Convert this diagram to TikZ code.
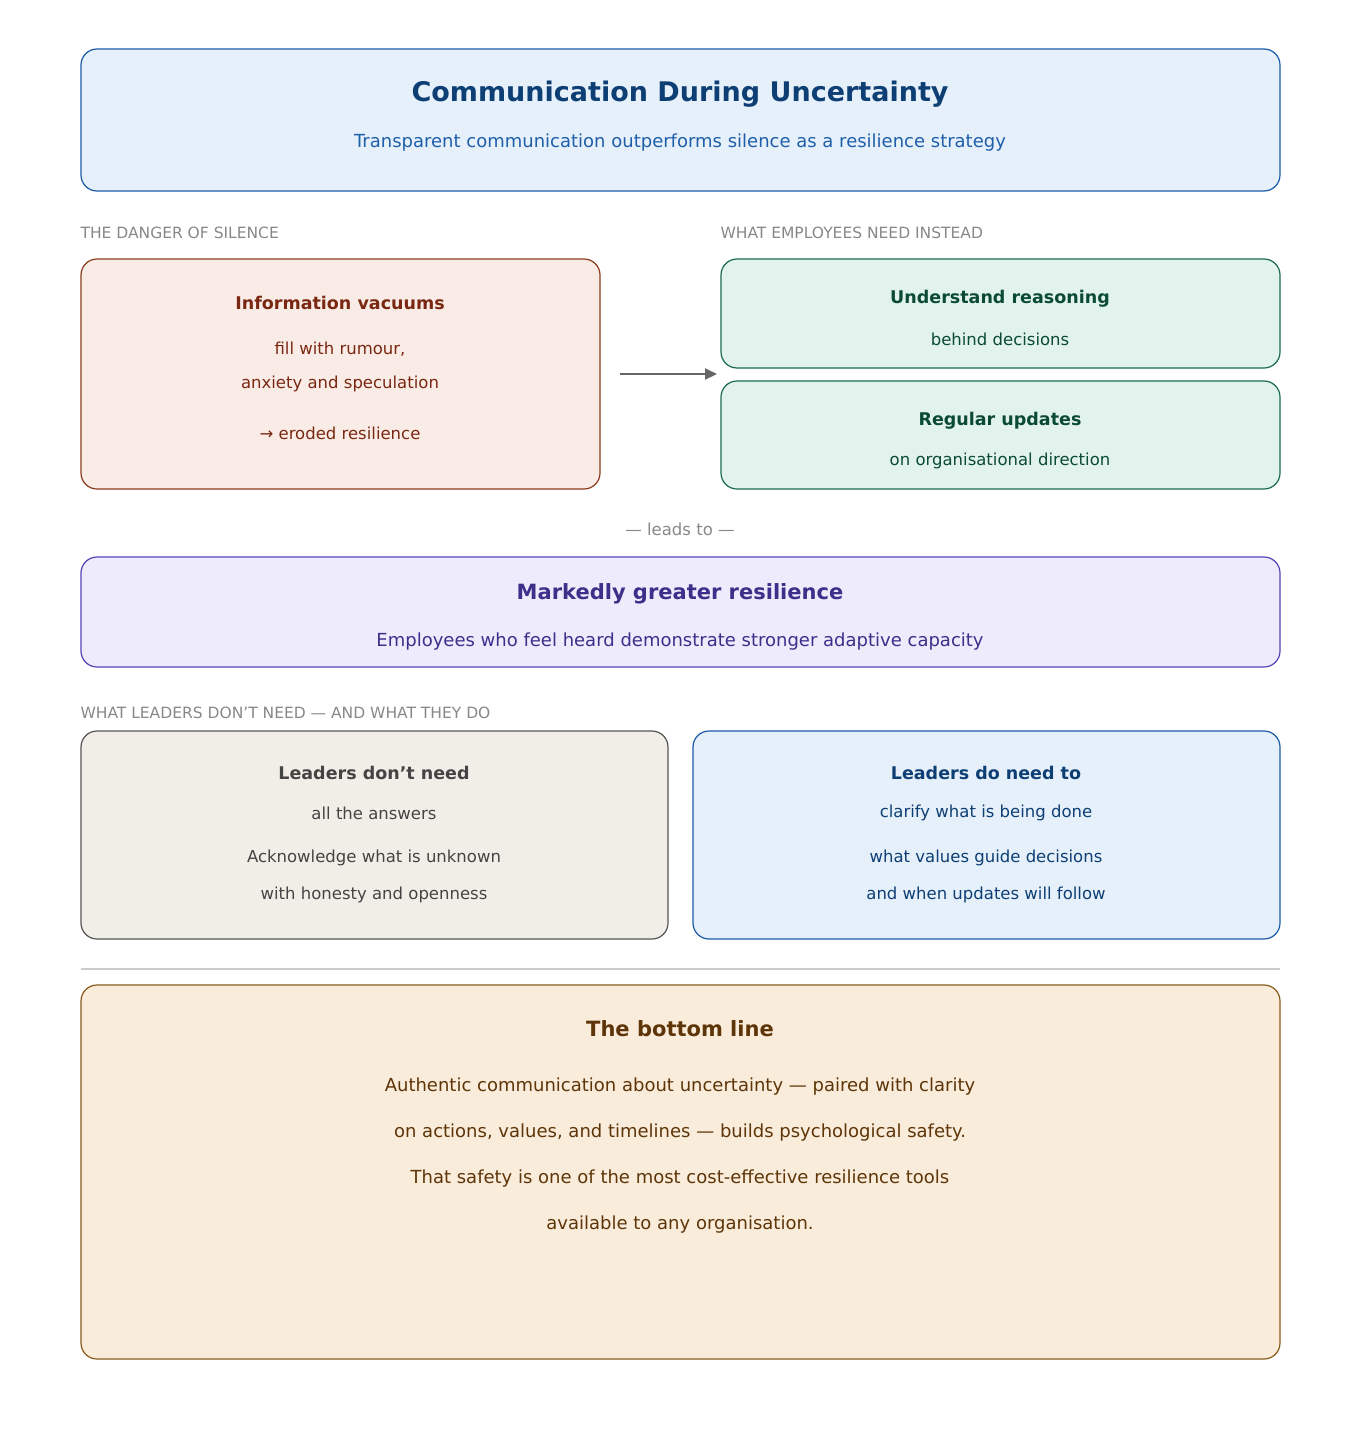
\documentclass[tikz,border=0pt]{standalone}
\usepackage{fontspec}
\setmainfont{DejaVu Sans}
\usetikzlibrary{arrows.meta}
\definecolor{hdrF}{HTML}{E6F0FA}\definecolor{hdrB}{HTML}{1A5CA8}\definecolor{hdrT}{HTML}{0D3F75}\definecolor{hdrS}{HTML}{1F5FAA}
\definecolor{redF}{HTML}{F9ECE7}\definecolor{redB}{HTML}{8B3A1E}\definecolor{redT}{HTML}{7A2812}
\definecolor{grnF}{HTML}{E1F3EC}\definecolor{grnB}{HTML}{1A6B50}\definecolor{grnT}{HTML}{0B4A36}
\definecolor{purF}{HTML}{EDEBFC}\definecolor{purB}{HTML}{5544B8}\definecolor{purT}{HTML}{3D2F8A}
\definecolor{gryF}{HTML}{F1EEE8}\definecolor{gryB}{HTML}{555555}\definecolor{gryT}{HTML}{444444}
\definecolor{orgF}{HTML}{FAECDB}\definecolor{orgB}{HTML}{8A5A1A}\definecolor{orgT}{HTML}{5E3508}
\definecolor{lbl}{HTML}{888888}
\newcommand{\fs}[1]{\fontsize{#1}{#1}\selectfont}
\tikzset{box/.style={rounded corners=16pt,line width=1.2pt},
 sec/.style={anchor=west,text=lbl,font=\fs{15.5}},
 t/.style={anchor=center,inner sep=0pt}}
\begin{document}
\begin{tikzpicture}[x=1pt,y=-1pt]
\useasboundingbox[fill=white] (0,0) rectangle (1360,1440);
\draw[box,fill=hdrF,draw=hdrB] (81,49) rectangle (1280,191);
\node[t,text=hdrT,font=\fs{27}\bfseries] (title) at (680,94) {Communication During Uncertainty};
\node[t,text=hdrS,font=\fs{18}] (sub) at (680,143) {Transparent communication outperforms silence as a resilience strategy};
\node[sec] (s1) at (77,233) {THE DANGER OF SILENCE};
\node[sec] (s2) at (717,233) {WHAT EMPLOYEES NEED INSTEAD};
\draw[box,fill=redF,draw=redB] (81,259) rectangle (600,489);
\node[t,text=redT,font=\fs{17.5}\bfseries] (r1) at (340,303) {Information vacuums};
\node[t,text=redT,font=\fs{16.5}] (r2) at (340,349) {fill with rumour,};
\node[t,text=redT,font=\fs{16.5}] (r3) at (340,384) {anxiety and speculation};
\node[t,text=redT,font=\fs{16.5}] (r4) at (340,433) {→ eroded resilience};
\coordinate (a1) at (620,374); \coordinate (a2) at (717,374);
\draw[line width=2pt,draw=gray!80!black,-{Triangle[length=12pt,width=11pt]}] (a1) -- (a2);
\draw[box,fill=grnF,draw=grnB] (721,259) rectangle (1280,368);
\node[t,text=grnT,font=\fs{17.5}\bfseries] (g1) at (1000,299) {Understand reasoning};
\node[t,text=grnT,font=\fs{16.5}] (g2) at (1000,339) {behind decisions};
\draw[box,fill=grnF,draw=grnB] (721,381) rectangle (1280,489);
\node[t,text=grnT,font=\fs{17.5}\bfseries] (g3) at (1000,421) {Regular updates};
\node[t,text=grnT,font=\fs{16.5}] (g4) at (1000,461) {on organisational direction};
\node[t,text=lbl,font=\fs{16.5}] (lt) at (680,529) {— leads to —};
\draw[box,fill=purF,draw=purB] (81,557) rectangle (1280,667);
\node[t,text=purT,font=\fs{21}\bfseries] (p1) at (680,594) {Markedly greater resilience};
\node[t,text=purT,font=\fs{18}] (p2) at (680,642) {Employees who feel heard demonstrate stronger adaptive capacity};
\node[sec] (s3) at (77,713) {WHAT LEADERS DON'T NEED — AND WHAT THEY DO};
\draw[box,fill=gryF,draw=gryB] (81,731) rectangle (668,939);
\node[t,text=gryT,font=\fs{17.5}\bfseries] (d1) at (374,773) {Leaders don't need};
\node[t,text=gryT,font=\fs{16.5}] (d2) at (374,813) {all the answers};
\node[t,text=gryT,font=\fs{16.5}] (d3) at (374,858) {Acknowledge what is unknown};
\node[t,text=gryT,font=\fs{16.5}] (d4) at (374,895) {with honesty and openness};
\draw[box,fill=hdrF,draw=hdrB] (693,731) rectangle (1280,939);
\node[t,text=hdrT,font=\fs{17.5}\bfseries] (e1) at (986,773) {Leaders do need to};
\node[t,text=hdrT,font=\fs{16.5}] (e2) at (986,813) {clarify what is being done};
\node[t,text=hdrT,font=\fs{16.5}] (e3) at (986,858) {what values guide decisions};
\node[t,text=hdrT,font=\fs{16.5}] (e4) at (986,895) {and when updates will follow};
\coordinate (l1) at (81,969); \coordinate (l2) at (1280,969);
\draw[line width=1.5pt,draw=black!20] (l1) -- (l2);
\draw[box,fill=orgF,draw=orgB] (81,985) rectangle (1280,1359);
\node[t,text=orgT,font=\fs{21}\bfseries] (b1) at (680,1029) {The bottom line};
\node[t,text=orgT,font=\fs{18}] (b2) at (680,1087) {Authentic communication about uncertainty — paired with clarity};
\node[t,text=orgT,font=\fs{18}] (b3) at (680,1133) {on actions, values, and timelines — builds psychological safety.};
\node[t,text=orgT,font=\fs{18}] (b4) at (680,1179) {That safety is one of the most cost-effective resilience tools};
\node[t,text=orgT,font=\fs{18}] (b5) at (680,1225) {available to any organisation.};
\end{tikzpicture}
\end{document}
